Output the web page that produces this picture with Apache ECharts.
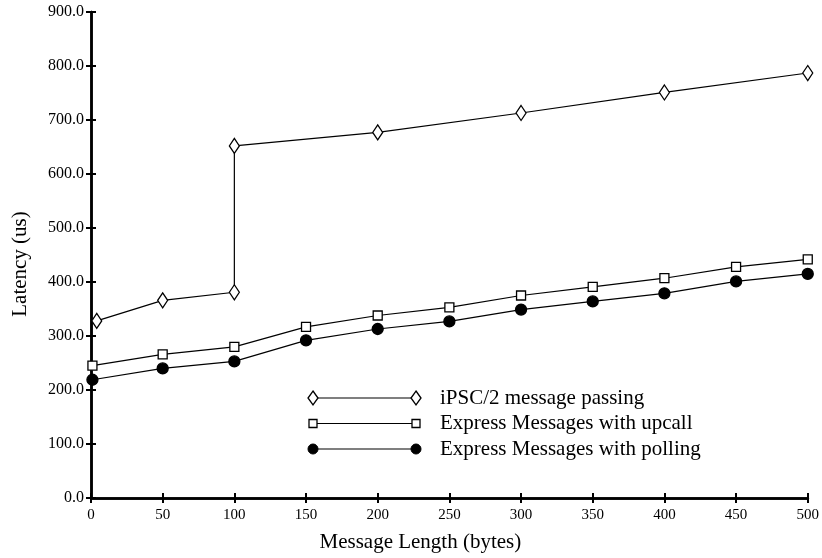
<!DOCTYPE html>
<html>
<head>
<meta charset="utf-8">
<script src="https://cdn.jsdelivr.net/npm/echarts@6/dist/echarts.min.js"></script>
<style>html,body{margin:0;padding:0;background:#fff}#c{width:822px;height:558px}</style>
</head>
<body>
<div id="c"></div>
<script>
const xTicks = [0, 50, 100, 150, 200, 250, 300, 350, 400, 450, 500];
const yTicks = [0, 100, 200, 300, 400, 500, 600, 700, 800, 900];

const seriesNames = ['iPSC/2 message passing', 'Express Messages with upcall', 'Express Messages with polling'];

const ipscX = [4, 50, 100, 100, 200, 300, 400, 500];
const ipscY = [328, 366, 381, 652, 677, 713, 751, 787];

const upcallX = [1, 50, 100, 150, 200, 250, 300, 350, 400, 450, 500];
const upcallY = [245, 266, 280, 317, 338, 353, 375, 391, 407, 428, 442];

const pollingX = [1, 50, 100, 150, 200, 250, 300, 350, 400, 450, 500];
const pollingY = [219, 240, 253, 292, 313, 327, 349, 364, 379, 401, 415];

const FONT = '"Liberation Serif", "DejaVu Serif", serif';
const zip = (xs, ys) => xs.map((x, i) => [x, ys[i]]);

const chart = echarts.init(document.getElementById('c'), null, {renderer: 'canvas'});

const axisLineStyle = {color: '#000', width: 2.5};
const tickStyle = {color: '#000', width: 2};

const symbols = ['diamond', 'rect', 'circle'];
const symbolSizes = [[10, 15], 9, 11];
const fills = ['#fff', '#fff', '#000'];

// legend drawn with graphic elements
const legendRows = [398, 423.5, 449];
const legendGraphics = [];
seriesNames.forEach((name, i) => {
  const y = legendRows[i];
  legendGraphics.push({type: 'line', shape: {x1: 313, y1: y, x2: 416, y2: y}, style: {stroke: '#000', lineWidth: 1.2}, z: 10});
  [313, 416].forEach(cx => {
    if (i === 0) {
      legendGraphics.push({type: 'polygon', shape: {points: [[cx, y - 7], [cx + 5, y], [cx, y + 7], [cx - 5, y]]}, style: {fill: '#fff', stroke: '#000', lineWidth: 1.3}, z: 11});
    } else if (i === 1) {
      legendGraphics.push({type: 'rect', shape: {x: cx - 4, y: y - 4, width: 8, height: 8}, style: {fill: '#fff', stroke: '#000', lineWidth: 1.3}, z: 11});
    } else {
      legendGraphics.push({type: 'circle', shape: {cx: cx, cy: y, r: 5}, style: {fill: '#000', stroke: '#000', lineWidth: 1}, z: 11});
    }
  });
  legendGraphics.push({type: 'text', x: 440, y: y, style: {text: name, font: '21px ' + FONT, fill: '#000', verticalAlign: 'middle', align: 'left'}, z: 11});
});

const datasets = [zip(ipscX, ipscY), zip(upcallX, upcallY), zip(pollingX, pollingY)];

chart.setOption({
  animation: false,
  backgroundColor: '#fff',
  grid: {left: 91, right: 11, top: 12, bottom: 57, containLabel: false},
  xAxis: [{
    type: 'value', min: xTicks[0], max: xTicks[xTicks.length - 1], interval: 50,
    position: 'bottom',
    name: 'Message Length (bytes)', nameLocation: 'middle', nameGap: 34,
    nameTextStyle: {fontFamily: FONT, fontSize: 21, color: '#000', padding: [0, 58, 0, 0]},
    axisLine: {show: true, lineStyle: axisLineStyle},
    axisTick: {show: true, inside: true, length: 5, lineStyle: tickStyle},
    axisLabel: {fontFamily: FONT, fontSize: 15, color: '#000', margin: 10},
    splitLine: {show: false}
  }, {
    type: 'value', min: xTicks[0], max: xTicks[xTicks.length - 1], interval: 50,
    position: 'top',
    axisLine: {show: true, lineStyle: axisLineStyle},
    axisTick: {show: true, inside: true, length: 5, lineStyle: tickStyle},
    axisLabel: {show: false},
    splitLine: {show: false}
  }],
  yAxis: [{
    type: 'value', min: yTicks[0], max: yTicks[yTicks.length - 1], interval: 100,
    position: 'left',
    name: 'Latency (us)', nameLocation: 'middle', nameGap: 60,
    nameTextStyle: {fontFamily: FONT, fontSize: 21, color: '#000', padding: [0, 18, 0, 0]},
    axisLine: {show: true, lineStyle: axisLineStyle},
    axisTick: {show: true, inside: true, length: 5, lineStyle: tickStyle},
    axisLabel: {fontFamily: FONT, fontSize: 16, color: '#000', margin: 7, formatter: v => v.toFixed(1)},
    splitLine: {show: false}
  }, {
    type: 'value', min: yTicks[0], max: yTicks[yTicks.length - 1], interval: 100,
    position: 'right',
    axisLine: {show: true, lineStyle: axisLineStyle},
    axisTick: {show: true, inside: true, length: 5, lineStyle: tickStyle},
    axisLabel: {show: false},
    splitLine: {show: false}
  }],
  series: datasets.map((d, i) => ({
    name: seriesNames[i],
    type: 'line',
    data: d,
    symbol: symbols[i],
    symbolSize: symbolSizes[i],
    showAllSymbol: true,
    clip: false,
    lineStyle: {color: '#000', width: 1.2},
    itemStyle: {color: fills[i], borderColor: '#000', borderWidth: 1.3, opacity: 1},
    z: 5 + i
  })),
  graphic: legendGraphics
});
</script>
</body>
</html>
